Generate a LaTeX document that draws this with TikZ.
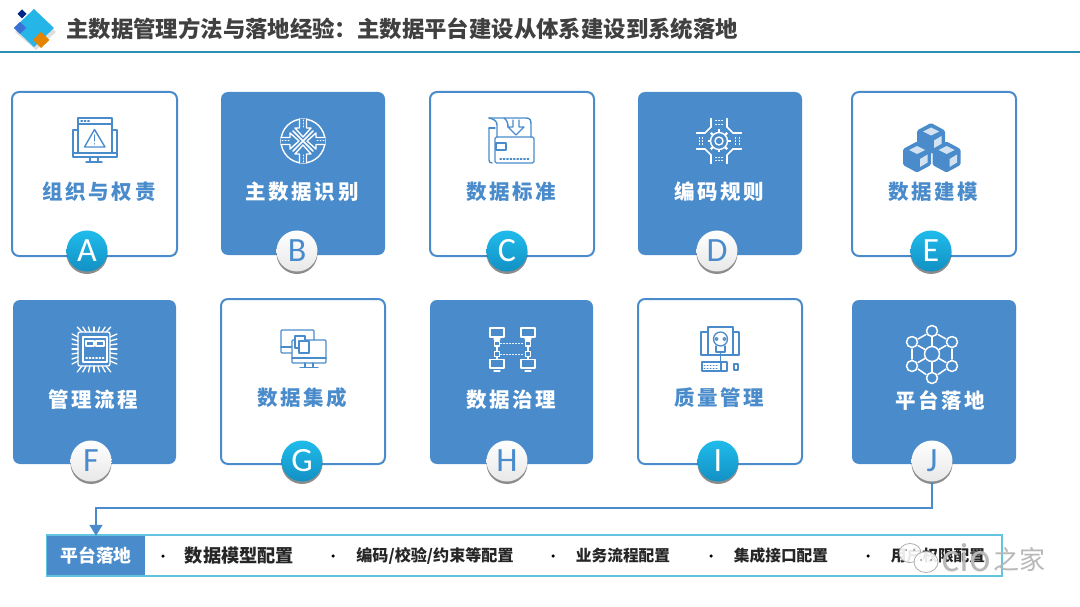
\documentclass[tikz,border=0pt]{standalone}
\usepackage{fontspec}
\usetikzlibrary{shadows,arrows.meta}
\setmainfont{Noto Sans CJK SC}
\newfontfamily\spacedcjk[LetterSpace=13]{Noto Sans CJK SC}
\newfontfamily\badgefont{Carlito}
\definecolor{mainblue}{HTML}{4A8CCB}
\definecolor{rulecol}{HTML}{2B8FB3}
\definecolor{barcol}{HTML}{62C4E0}
\definecolor{cyanhi}{HTML}{1FBCEB}
\definecolor{cyanlo}{HTML}{1390C4}
\definecolor{titlecol}{HTML}{404040}
\tikzset{
  cardline/.style={draw=mainblue,line width=2pt,fill=white,rounded corners=7pt},
  cardfill/.style={fill=mainblue,rounded corners=7pt},
  lbl/.style={inner sep=0pt,font=\spacedcjk\bfseries\fontsize{20.5}{24}\selectfont},
  lblblue/.style={lbl,text=mainblue},
  lblwhite/.style={lbl,text=white},
  badge/.style={circle,minimum size=41pt,inner sep=0pt,font=\badgefont\fontsize{34}{36}\selectfont,
    drop shadow={shadow xshift=0pt,shadow yshift=-2.5pt,opacity=.45,fill=black}},
  badgecyan/.style={badge,top color=cyanhi,bottom color=cyanlo,text=white},
  badgewhite/.style={badge,top color=white,bottom color=gray!18,text=mainblue},
  ico/.style={line width=1.4pt,line join=round,line cap=round},
  item/.style={inner sep=0pt,font=\bfseries,text=black!85},
  bullet/.style={circle,fill=black,inner sep=0pt,minimum size=3.5pt},
  connector/.style={draw=mainblue,line width=1.5pt},
  wm/.style={inner sep=0pt,text=black!28}
}
\begin{document}
\begin{tikzpicture}[x=1pt,y=-1pt]
\useasboundingbox (0,0) rectangle (1080,607);
\fill[white] (0,0) rectangle (1080,607);

% header logo
\fill[black!25,opacity=.5] (34,12) -- (56,32) -- (36,50) -- (15,32) -- cycle;
\fill[cyanhi!85!mainblue] (34,9) -- (54,28) -- (34,47) -- (14,28) -- cycle;
\fill[blue!45!black!85!cyan] (22,9.5) -- (26.5,14) -- (22,18.5) -- (17.5,14) -- cycle;
\fill[mainblue!80!blue] (20,22) -- (26,28) -- (20,34) -- (14,28) -- cycle;
\fill[orange!85!yellow!90!black] (41,32) -- (49.5,40) -- (41,48) -- (33,40) -- cycle;
\node[inner sep=0pt,anchor=west,text=titlecol,font=\bfseries\fontsize{22.4}{26}\selectfont] (title) at (66,29)
  {主数据管理方法与落地经验\symbol{"FF1A}主数据平台建设从体系建设到系统落地};
\draw[rulecol,line width=2.5pt] (0,52) -- (1080,52);

% cards
\draw[cardline] (12,92) rectangle (177,256);
\fill[cardfill] (221,92) rectangle (385,255);
\draw[cardline] (430,92) rectangle (594,256);
\fill[cardfill] (638,92) rectangle (802,255);
\draw[cardline] (852,92) rectangle (1016,256);
\fill[cardfill] (13,300) rectangle (176,464);
\draw[cardline] (221,299) rectangle (385,464);
\fill[cardfill] (430,300) rectangle (593,464);
\draw[cardline] (638,299) rectangle (802,464);
\fill[cardfill] (852,300) rectangle (1016,464);

% icon A
\begin{scope}[ico,draw=mainblue]
\draw (78,118) rectangle (112,153);
\draw (78,124) -- (112,124);
\draw[dotted] (81,121) -- (90,121);
\draw (78,130) -- (73,130) -- (73,157) -- (117,157) -- (117,130) -- (112,130);
\draw (73,153) -- (117,153);
\draw (90,157) -- (90,162) (98,157) -- (98,162) (86,162) -- (102,162);
\draw (94.5,129.5) -- (84.5,147) -- (105,147) -- cycle;
\draw (94.5,135) -- (94.5,141) (94.5,143.6) -- (94.5,144);
\end{scope}

% icon B
\begin{scope}[ico,draw=white,shift={(303,141)}]
\draw (0,0) circle (22);
\draw[line width=1.5pt] (-10,-10) -- (10,10) (-10,10) -- (10,-10);
\foreach \a in {0,90,180,270}{
  \begin{scope}[rotate=\a]
  \draw[fill=mainblue] (-3.5,-22) -- (-3.5,-13) -- (-8,-13) -- (0,-4) -- (8,-13) -- (3.5,-13) -- (3.5,-22);
  \draw[dotted,line width=1pt] (0,-21) -- (0,-12);
  \end{scope}
}
\end{scope}

% icon C
\begin{scope}[ico,draw=mainblue]
\draw (489,118) -- (526,118) .. controls (530,118) and (531,120) .. (531,124) -- (531,137);
\draw (489,118) .. controls (494,119) and (497,121) .. (497,125) -- (497,137);
\draw (504,118) .. controls (507,120) and (508,123) .. (508,127);
\draw (489,128) -- (489,160) .. controls (489,162) and (490,163) .. (492,163);
\draw (489,128) -- (495,128);
\draw[rounded corners=1.5pt] (495,137) rectangle (534,163);
\draw (496,143) rectangle (506,150);
\draw[dotted] (500,159) -- (530,159);
\draw (513,120) -- (513,127) -- (508,127) -- (516,135) -- (524,127) -- (519,127) -- (519,120);
\end{scope}

% icon D
\begin{scope}[ico,draw=white,shift={(719,141)}]
\draw (0,0) circle (8.5);
\draw (0,0) circle (4);
\foreach \a in {0,45,...,315}{
  \draw[line width=2.2pt,rotate=\a,line cap=butt] (8.5,0) -- (11.5,0);
}
\foreach \a in {0,90,180,270}{
  \begin{scope}[rotate=\a]
  \draw (-8,-22.5) -- (-8,-14) (8,-22.5) -- (8,-14);
  \draw (-8,-14) -- (-14,-8) (8,-14) -- (14,-8);
  \draw[dotted,line width=1pt] (-3.5,-20) -- (3.5,-20) (-3.5,-16.5) -- (3.5,-16.5);
  \end{scope}
}
\end{scope}

% icon E
\foreach \cx/\cy in {931/138.5,917/157,946.5/157}{
  \begin{scope}[shift={(\cx,\cy)}]
  \fill[mainblue,rounded corners=1.5pt] (0,-15.5) -- (14,-8) -- (14,8) -- (0,15.5) -- (-14,8) -- (-14,-8) -- cycle;
  \fill[white!75!mainblue] (0,-11) -- (8,-7) -- (0,-3) -- (-8,-7) -- cycle;
  \fill[white!75!mainblue] (3,2) -- (10.5,-2.5) -- (10.5,5.5) -- (3,10) -- cycle;
  \end{scope}
}

% icon F
\begin{scope}[ico,draw=white,line width=1.3pt]
\draw[rounded corners=2pt] (78,332) rectangle (110,366);
\draw (83,337) rectangle (107,362);
\draw (86,341) rectangle (94,346) (96,341) rectangle (104,346);
\draw[dotted] (86,358) -- (104,358);
\foreach \v in {-12,-8,-4,0,4,8,12}{
  \draw (94+\v,332) -- (94+1.4*\v,327) (94+\v,366) -- (94+1.4*\v,372);
  \draw (78,349+\v) -- (72,349+1.25*\v) (110,349+\v) -- (117,349+1.25*\v);
}
\end{scope}

% icon G
\begin{scope}[ico,draw=mainblue]
\draw[rounded corners=1pt] (292,353) -- (281,353) -- (281,330) -- (314,330) -- (314,340);
\draw (281,347) -- (292,347);
\draw[fill=white,rounded corners=1pt] (292,340) rectangle (326,363);
\draw (292,358) -- (326,358);
\draw (305,363) -- (305,367) (313,363) -- (313,367) (300,367.5) -- (318,367.5);
\draw[fill=white] (295,336) rectangle (305,348);
\draw[fill=white] (299,341) rectangle (309,353);
\end{scope}

% icon H
\begin{scope}[ico,draw=white,line width=1.3pt]
\foreach \xx in {497,528}{
  \draw (\xx-7,328) rectangle (\xx+7,337);
  \draw (\xx-3,339) -- (\xx+3,339);
  \draw (\xx,339) -- (\xx,341);
  \draw (\xx-2.5,341) rectangle (\xx+2.5,346);
  \draw (\xx,346) -- (\xx,351.5);
  \draw (\xx-2.5,351.5) rectangle (\xx+2.5,356.5);
  \draw (\xx,356.5) -- (\xx,359);
  \draw (\xx-7,359.5) rectangle (\xx+7,368);
  \draw (\xx-3,371) -- (\xx+3,371);
}
\draw[dotted,line width=1pt] (500.5,343.5) -- (524.5,343.5) (500.5,354) -- (524.5,354);
\end{scope}

% icon I
\begin{scope}[ico,draw=mainblue,line width=1.3pt]
\draw (708,355) -- (708,327) -- (733,327) -- (733,355);
\draw (708,332) -- (701,332) -- (701,355) -- (739,355) -- (739,332) -- (733,332);
\draw (720.5,339) circle (7);
\draw (716.5,339) circle (1.5) (724.5,339) circle (1.5);
\draw (716,346) -- (716,352) -- (725,352) -- (725,346);
\draw (720.5,352) -- (720.5,362);
\draw (702,362) rectangle (727,371);
\draw[dotted,line width=1pt] (704,365) -- (718,365) (704,368) -- (718,368);
\draw (721,362) -- (721,371);
\draw (734,364) rectangle (738,370);
\end{scope}

% icon J
\begin{scope}[ico,draw=white,line width=1.5pt]
\draw (932,354) circle (7.5);
\foreach \nx/\ny in {932/331,912/342,952/342,912/366,952/366,932/378}{
  \draw (\nx,\ny) circle (5.5);
}
\draw (932,337) -- (932,346) (932,361.5) -- (932,372);
\draw (918,345.5) -- (925,349.5) (946,345.5) -- (939,349.5);
\draw (918,362.5) -- (925,358.5) (946,362.5) -- (939,358.5);
\draw (912,349) -- (912,359) (952,349) -- (952,359);
\draw (918,339) -- (926,334.5) (946,339) -- (938,334.5);
\draw (918,369) -- (926,374.5) (946,369) -- (938,374.5);
\end{scope}

% labels
\node[lblblue] (la) at (99,192) {组织与权责};
\node[lblwhite] (lb) at (302,192) {主数据识别};
\node[lblblue] (lc) at (511,192) {数据标准};
\node[lblwhite] (ld) at (719,192) {编码规则};
\node[lblblue] (le) at (933,192) {数据建模};
\node[lblwhite] (lf) at (93,400) {管理流程};
\node[lblblue] (lg) at (302,398) {数据集成};
\node[lblwhite] (lh) at (511,400) {数据治理};
\node[lblblue] (li) at (719,398) {质量管理};
\node[lblwhite] (lj) at (940,400) {平台落地};

% bottom bar
\draw[barcol,line width=2pt,fill=white] (47,535) rectangle (1002,576);
\node[fill=mainblue,text=white,inner sep=0pt,minimum width=98pt,minimum height=39pt,
  font=\bfseries\fontsize{17.8}{20}\selectfont] (barhead) at (96,555.5) {平台落地};

% connector (drawn under the badge)
\coordinate (turn) at (96,508);
\node[badgewhite] (J) at (932,461) {J};
\draw[connector,-{Triangle[length=11pt,width=13pt]}] (J.south) |- (turn) -- (barhead.north);

% badges
\node[badgecyan] (A) at (87,251) {A};
\node[badgewhite] (B) at (297,251) {B};
\node[badgecyan] (C) at (507,251) {C};
\node[badgewhite] (D) at (717,251) {D};
\node[badgecyan] (E) at (931,251) {E};
\node[badgewhite] (F) at (91,461) {F};
\node[badgecyan] (G) at (302,461) {G};
\node[badgewhite] (H) at (507,461) {H};
\node[badgecyan] (I) at (718,461) {I};

% bar items
\node[bullet] (b1) at (163,556) {};
\node[item,font=\bfseries\fontsize{18.2}{20}\selectfont] (i1) at (239.5,556) {数据模型配置};
\node[bullet] (b2) at (333,556) {};
\node[item,font=\bfseries\fontsize{16.1}{18}\selectfont] (i2) at (435,556) {编码/校验/约束等配置};
\node[bullet] (b3) at (553,556) {};
\node[item,font=\bfseries\fontsize{15.7}{18}\selectfont] (i3) at (623,556) {业务流程配置};
\node[bullet] (b4) at (711,556) {};
\node[item,font=\bfseries\fontsize{15.7}{18}\selectfont] (i4) at (781,556) {集成接口配置};
\node[bullet] (b5) at (868,556) {};
\node[item,font=\bfseries\fontsize{15.7}{18}\selectfont] (i5) at (938,556) {用户权限配置};

% watermark
\draw[black!35,fill=white,opacity=.9,line width=.8pt] (910,553) ellipse (11 and 9.5);
\draw[black!35,fill=white,opacity=.9,line width=.8pt] (926,562) ellipse (12 and 10.5);
\fill[black!45] (921,560) circle (1) (931,560) circle (1) (906,550) circle (1) (914,550) circle (1);
\node[wm,anchor=west,font=\fontsize{36}{38}\selectfont] (wm1) at (941,558) {cio};
\node[wm,anchor=west,font=\fontsize{26}{30}\selectfont] (wm2) at (993,560) {之家};
\end{tikzpicture}
\end{document}
